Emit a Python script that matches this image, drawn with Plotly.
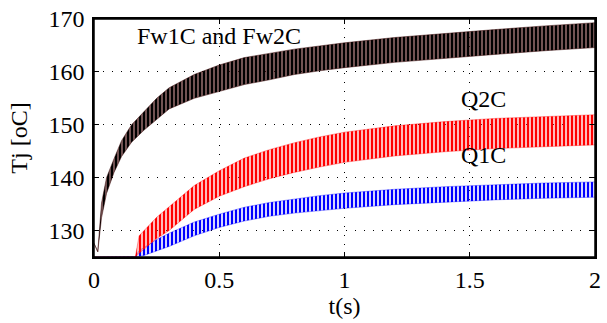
import plotly.graph_objects as go

# ---- data (envelopes of the ripple bands) ----
T_FW = [0.0, 0.015, 0.03, 0.05, 0.08, 0.11, 0.15, 0.2, 0.25, 0.3, 0.4, 0.5,
        0.6, 0.7, 0.8, 0.9, 1.0, 1.2, 1.4, 1.6, 1.8, 2.0]
FW_UPPER = [127.6, 126.0, 135.2, 140.0, 143.6, 147.0, 150.0, 152.5, 155.0, 157.0,
            159.5, 161.3, 162.7, 163.5, 164.3, 164.9, 165.5, 166.5, 167.3, 168.0,
            168.7, 169.3]
FW_LOWER = [127.6, 126.0, 132.4, 137.0, 141.0, 144.0, 146.7, 149.0, 151.0, 153.0,
            155.0, 156.3, 157.6, 158.5, 159.5, 160.2, 160.8, 161.8, 162.6, 163.3,
            164.0, 164.6]

T_Q = [0.0, 0.165, 0.18, 0.2, 0.25, 0.3, 0.4, 0.5, 0.6, 0.7, 0.8, 0.9, 1.0,
       1.2, 1.4, 1.6, 1.8, 2.0]
Q2_UPPER = [125.0, 125.0, 129.0, 130.0, 132.5, 134.5, 138.5, 141.3, 143.7, 145.3,
            146.6, 147.7, 148.6, 149.8, 150.6, 151.2, 151.6, 151.9]
Q2_LOWER = [125.0, 125.0, 125.7, 126.5, 128.5, 130.0, 134.0, 136.5, 138.3, 139.8,
            141.0, 142.0, 142.9, 144.1, 144.9, 145.5, 145.9, 146.2]
Q1_UPPER = [125.0, 125.0, 126.2, 126.8, 128.3, 129.5, 131.6, 133.1, 134.4, 135.3,
            136.0, 136.6, 137.1, 137.8, 138.3, 138.7, 139.0, 139.2]
Q1_LOWER = [125.0, 125.0, 125.1, 125.3, 126.2, 127.0, 129.0, 130.6, 131.8, 132.7,
            133.3, 133.8, 134.2, 134.9, 135.4, 135.8, 136.1, 136.3]

X_TICKS = [0, 0.5, 1, 1.5, 2]
X_TICK_LABELS = ["0", "0.5", "1", "1.5", "2"]
Y_TICKS = [130, 140, 150, 160, 170]
Y_TICK_LABELS = ["130", "140", "150", "160", "170"]

LABELS = ["Fw1C and Fw2C", "Q2C", "Q1C"]
LABEL_X = [0.50, 1.555, 1.555]
LABEL_Y = [166.8, 154.8, 144.2]

FONT = "Liberation Serif, Times New Roman, serif"
FSIZE = 24

fig = go.Figure()


def band(t, lo, hi, name, fg, bg, edge, solidity):
    fig.add_trace(go.Scatter(x=t, y=lo, mode="lines", name=name,
                             line=dict(color=edge, width=0.7),
                             showlegend=False, hoverinfo="skip"))
    fig.add_trace(go.Scatter(x=t, y=hi, mode="lines", name=name,
                             line=dict(color=edge, width=0.7),
                             fill="tonexty", fillcolor="rgba(0,0,0,0)",
                             fillpattern=dict(shape="|", size=4, solidity=solidity,
                                              fgcolor=fg, bgcolor=bg,
                                              fillmode="replace"),
                             showlegend=False))


band(T_Q, Q1_LOWER, Q1_UPPER, "Q1C", "rgb(0,0,255)", "rgba(120,120,255,0.3)",
     "rgba(0,0,255,0.5)", 0.5)
band(T_Q, Q2_LOWER, Q2_UPPER, "Q2C", "rgb(255,0,0)", "rgba(255,110,110,0.35)",
     "rgba(255,0,0,0.5)", 0.55)
band(T_FW, FW_LOWER, FW_UPPER, "Fw1C and Fw2C", "rgb(0,0,0)", "rgba(100,25,25,0.6)",
     "rgba(50,0,0,0.7)", 0.65)

for txt, lx, ly in zip(LABELS, LABEL_X, LABEL_Y):
    fig.add_annotation(x=lx, y=ly, text=txt, showarrow=False,
                       font=dict(family=FONT, size=FSIZE, color="black"),
                       xanchor="center", yanchor="middle")

# plot frame
fig.add_shape(type="rect", xref="paper", yref="paper", x0=0, y0=0, x1=1, y1=1,
              line=dict(color="black", width=1.5), layer="above")

axis_common = dict(showline=True, linecolor="black", linewidth=1.5, mirror="ticks",
                   ticks="inside", ticklen=5, tickwidth=1, tickcolor="black",
                   showgrid=True, gridcolor="black", gridwidth=1,
                   griddash="1px,8px", zeroline=False,
                   tickfont=dict(family=FONT, size=FSIZE, color="black"))

fig.update_xaxes(range=[0, 2], tickvals=X_TICKS, ticktext=X_TICK_LABELS,
                 title=dict(text="t(s)", font=dict(family=FONT, size=FSIZE, color="black"),
                            standoff=0),
                 **axis_common)
fig.update_yaxes(range=[125, 170], tickvals=Y_TICKS, ticktext=Y_TICK_LABELS,
                 ticklabelstandoff=3,
                 title=dict(text="Tj [oC]", font=dict(family=FONT, size=FSIZE, color="black"),
                            standoff=14),
                 **axis_common)

fig.update_layout(width=607, height=323, margin=dict(l=94, r=6, t=17, b=66),
                  plot_bgcolor="white", paper_bgcolor="white", showlegend=False,
                  font=dict(family=FONT, size=FSIZE, color="black"))

fig.write_html("out.html", config={"displayModeBar": False},
               post_script="document.body.style.margin='0';"
                           "document.body.style.padding='0';")
